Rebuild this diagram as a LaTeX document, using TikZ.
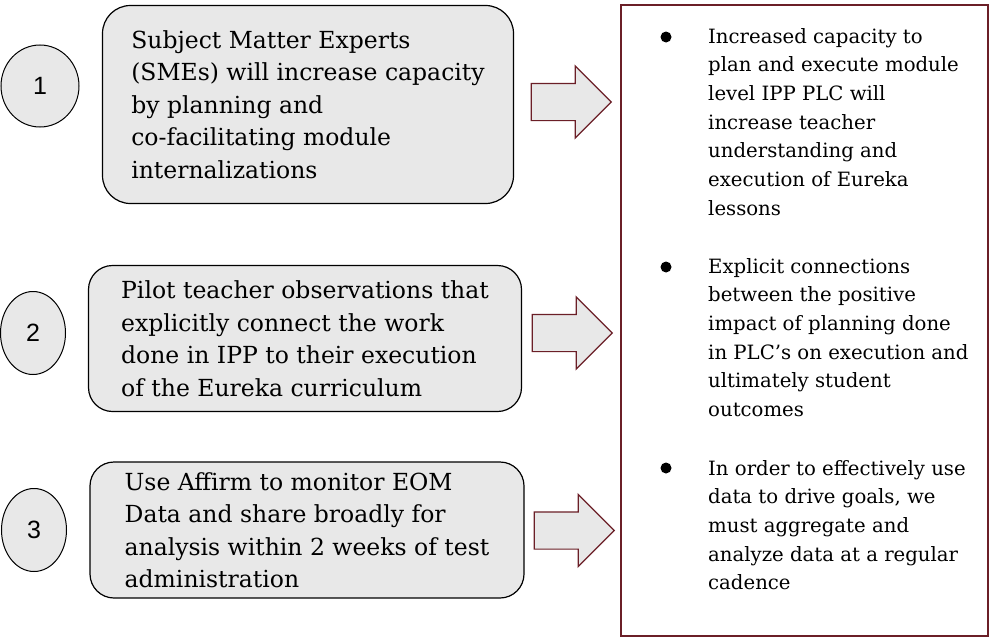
\documentclass[tikz,border=0pt]{standalone}
\usepackage{fontspec}
\setmainfont{DejaVu Serif}
\newfontfamily\numfont{Liberation Sans}
\usetikzlibrary{shapes.geometric,shapes.arrows}
\definecolor{boxgray}{HTML}{E8E8E8}
\definecolor{wine}{HTML}{6B1F27}
\begin{document}
\begin{tikzpicture}[
		x=1pt,y=-1pt,
		stepnum/.style={ellipse,draw,fill=boxgray,line width=1pt,inner sep=0pt,
			font=\numfont\fontsize{25}{25}\selectfont},
		taskbox/.style={rectangle,rounded corners=28pt,draw,fill=boxgray,line width=1.2pt,
			align=left,inner sep=0pt,font=\fontsize{23.5}{32.5}\selectfont},
		bigarrow/.style={single arrow,draw=wine,fill=boxgray,line width=1.2pt,
			inner xsep=0pt,inner ysep=18pt,minimum height=80pt,minimum width=71pt,
			single arrow head extend=17.5pt,single arrow head indent=0pt},
		outcome/.style={anchor=north west,align=left,inner sep=0pt,
			font=\fontsize{19.7}{28.7}\selectfont},
		bulletdot/.style={circle,fill=black,inner sep=0pt,minimum size=11pt}
		]
		\useasboundingbox (0,0) rectangle (990,637);
		% step numbers
		\node[stepnum,minimum width=78pt,minimum height=82pt] (c1) at (40,86) {1};
		\node[stepnum,minimum width=65pt,minimum height=83pt] (c2) at (33,333) {2};
		\node[stepnum,minimum width=65pt,minimum height=83pt] (c3) at (34,530) {3};
		% actions
		\node[taskbox,minimum width=411pt,minimum height=198pt] (b1) at (308,104.5)
			{Subject Matter Experts\\(SMEs) will increase capacity\\by planning and\\co-facilitating module\\internalizations};
		\node[taskbox,minimum width=433pt,minimum height=146pt,rounded corners=24pt] (b2) at (305,338.5)
			{Pilot teacher observations that\\explicitly connect the work\\done in IPP to their execution\\of the Eureka curriculum};
		\node[taskbox,minimum width=434pt,minimum height=136pt,rounded corners=24pt] (b3) at (307,530)
			{Use Affirm to monitor EOM\\Data and share broadly for\\analysis within 2 weeks of test\\administration};
		% arrows
		\node[bigarrow] (a1) at (562,102) {};
		\node[bigarrow] (a2) at (563,333) {};
		\node[bigarrow] (a3) at (565,530.5) {};
		% outcomes
		\draw[wine,line width=1.2pt] (621,5) rectangle (988,636);
		\node[bulletdot] (d1) at (666,37) {};
		\node[outcome] (o1) at (708,28)
			{Increased capacity to\\plan and execute module\\level IPP PLC will\\increase teacher\\understanding and\\execution of Eureka\\lessons};
		\node[bulletdot] (d2) at (666,267) {};
		\node[outcome] (o2) at (708,258)
			{Explicit connections\\between the positive\\impact of planning done\\in PLC’s on execution and\\ultimately student\\outcomes};
		\node[bulletdot] (d3) at (666,468) {};
		\node[outcome] (o3) at (708,460)
			{In order to effectively use\\data to drive goals, we\\must aggregate and\\analyze data at a regular\\cadence};
		\end{tikzpicture}
\end{document}
